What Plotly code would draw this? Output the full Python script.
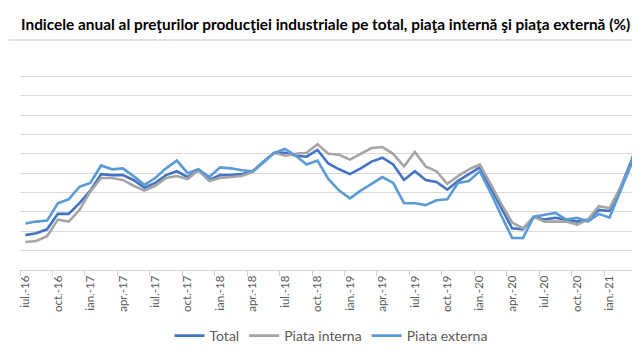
import plotly.graph_objects as go

# Month categories (jul-16 .. apr-21)
month_abbr = ["ian.", "feb.", "mar.", "apr.", "mai.", "iun.", "iul.", "aug.", "sep.", "oct.", "noi.", "dec."]
months = []
y, m = 2016, 6
while (y, m) <= (2021, 3):
    months.append(f"{month_abbr[m]}-{str(y)[2:]}")
    m += 1
    if m == 12:
        m = 0
        y += 1

total = [-2.4, -2.2, -1.8, -0.2, -0.2, 0.9, 2.2, 3.9, 3.8, 3.8, 3.3, 2.5,
         3.0, 3.8, 4.2, 3.6, 4.3, 3.3, 3.8, 3.8, 3.9, 4.2, 5.1, 6.1,
         6.1, 5.8, 5.7, 6.4, 5.0, 4.4, 3.9, 4.5, 5.2, 5.6, 4.9, 3.3,
         4.2, 3.3, 3.1, 2.3, 3.2, 3.9, 4.6, 2.5, 0.4, -1.7, -1.8, -0.5,
         -0.8, -0.6, -0.8, -1.0, -0.8, 0.2, 0.1, 2.5, 5.2, 8.7]

piata_interna = [-3.1, -3.0, -2.5, -0.8, -1.0, 0.2, 2.1, 3.5, 3.5, 3.3, 2.7, 2.2,
                 2.7, 3.5, 3.7, 3.4, 4.3, 3.2, 3.5, 3.6, 3.7, 4.1, 5.1, 6.1,
                 5.8, 6.0, 6.1, 7.0, 6.0, 5.9, 5.4, 6.0, 6.6, 6.7, 6.0, 4.7,
                 6.2, 4.7, 4.2, 2.9, 3.7, 4.4, 4.9, 2.9, 0.8, -1.1, -1.7, -0.5,
                 -1.0, -1.0, -1.0, -1.3, -0.8, 0.6, 0.4, 2.5, 4.9, 8.7]

piata_externa = [-1.2, -1.0, -0.9, 0.9, 1.3, 2.6, 3.0, 4.8, 4.4, 4.5, 3.7, 2.8,
                 3.5, 4.5, 5.3, 4.0, 4.4, 3.6, 4.6, 4.5, 4.3, 4.2, 5.2, 6.1,
                 6.5, 5.8, 4.9, 5.3, 3.4, 2.2, 1.4, 2.2, 2.9, 3.6, 3.0, 0.9,
                 0.9, 0.7, 1.2, 1.3, 3.0, 3.2, 4.2, 2.0, -0.4, -2.7, -2.7, -0.5,
                 -0.3, -0.1, -0.8, -0.6, -1.0, -0.2, -0.6, 2.1, 4.9, 8.7]

series_names = ["Total", "Piata interna", "Piata externa"]
series_colors = ["#4472C4", "#A5A5A5", "#5B9BD5"]
title_text = "Indicele anual al preţurilor producţiei industriale pe total, piaţa internă şi piaţa externă (%)"

fig = go.Figure()
for name, vals, col in zip(series_names, [total, piata_interna, piata_externa], series_colors):
    fig.add_trace(go.Scatter(x=months, y=vals, mode="lines", name=name,
                             line=dict(color=col, width=2.6)))

W, H = 640, 360
ml, mr, mt, mb = 12, 0, 49, 98
ph = H - mt - mb
pw = W - ml - mr

def py(px):
    return (H - mb - px) / ph

fig.update_layout(
    width=W, height=H,
    margin=dict(l=ml, r=mr, t=mt, b=mb),
    paper_bgcolor="white", plot_bgcolor="white",
    font=dict(family="Lato, Open Sans, sans-serif", color="#595959"),
    showlegend=True,
    legend=dict(orientation="h", x=0.5, xanchor="center", y=py(328), yanchor="middle",
                font=dict(size=14, color="#595959"), itemwidth=30, traceorder="normal"),
    xaxis=dict(type="category", range=[-0.5, len(months) - 1], tickmode="linear", tick0=0, dtick=3,
               tickson="boundaries", ticks="outside", ticklen=5, tickcolor="#d0d0d0",
               showline=True, linecolor="#d0d0d0", linewidth=1, showgrid=False,
               tickangle=-90, tickfont=dict(size=11.5, color="#595959")),
    yaxis=dict(range=[-6, 16], dtick=2, tick0=0, showgrid=True, gridcolor="#d9d9d9", gridwidth=1,
               showticklabels=False, zeroline=False, showline=False, ticks=""),
    annotations=[dict(text="<b>" + title_text + "</b>", xref="paper", yref="paper",
                      x=(320 - ml) / pw, y=py(16), xanchor="center", yanchor="middle",
                      showarrow=False, font=dict(size=15.4, color="#000000", family="Lato, sans-serif"))],
    shapes=[
        dict(type="line", xref="paper", yref="paper", x0=-ml / pw, x1=1, y0=py(32), y1=py(32),
             line=dict(color="#d9d9d9", width=1.5)),
        dict(type="line", xref="paper", yref="paper", x0=-ml / pw, x1=1, y0=py(357), y1=py(357),
             line=dict(color="#d9d9d9", width=1.5)),
    ],
)

fig.write_html("out.html")
